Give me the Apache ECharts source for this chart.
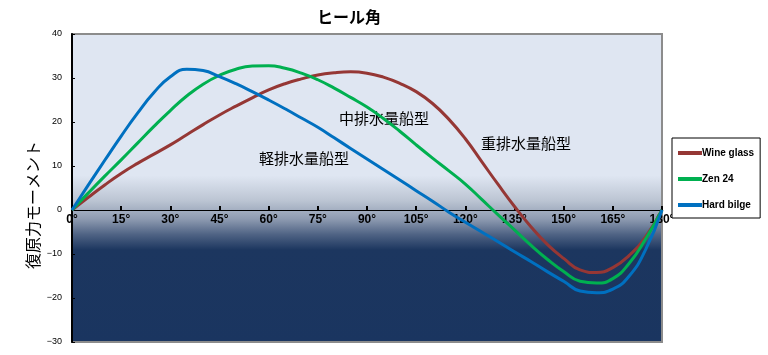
<!DOCTYPE html>
<html><head><meta charset="utf-8">
<script src="https://cdn.jsdelivr.net/npm/echarts@6/dist/echarts.min.js"></script>
<style>html,body{margin:0;padding:0;background:#fff}#c{width:768px;height:355px}</style>
</head><body><div id="c"></div>
<script>
const angles = [0,5,10,15,20,25,30,35,40,45,50,55,60,65,70,75,80,85,90,95,100,105,110,115,120,125,130,135,140,145,150,155,160,165,170,175,180];
const wineGlass = [0,2.9,5.7,8.3,10.6,12.7,14.8,17.1,19.4,21.6,23.6,25.5,27.3,28.7,29.8,30.7,31.2,31.4,31.1,30.2,28.8,26.9,24.2,20.6,16.2,11.0,5.8,0.8,-3.8,-7.8,-11.0,-13.6,-14.2,-13.1,-10.3,-6.1,0];
const zen24 = [0,3.9,7.7,11.4,15.2,19.0,22.6,25.9,28.6,30.6,32.0,32.7,32.8,32.2,31.1,29.6,27.7,25.6,23.4,20.8,17.9,14.8,11.8,8.9,5.9,2.4,-1.1,-4.5,-8.0,-11.2,-14.0,-16.2,-16.6,-15.6,-12.1,-6.6,0];
const hardBilge = [0,5.7,11.3,16.8,22.0,26.7,30.3,32.0,31.7,30.3,28.7,26.9,25.0,23.0,20.9,18.8,16.4,14.0,11.6,9.2,6.8,4.4,2.0,-0.5,-2.8,-5.0,-7.2,-9.5,-11.7,-14.0,-16.2,-18.4,-18.8,-18.0,-15.0,-9.0,0];
const seriesNames = ['Wine glass','Zen 24','Hard bilge'];
const seriesColors = ['#953735','#00b050','#0070c0'];
const titleText = 'ヒール角';
const yName = '復原力モーメント';
const notes = ['軽排水量船型','中排水量船型','重排水量船型'];

const chart = echarts.init(document.getElementById('c'));
const vals = [wineGlass, zen24, hardBilge];
const jp = '"Noto Sans CJK JP", sans-serif';
const gridTop = 34, gridBottom = 13, H = 355;
const yMin = -30, yMax = 40;
const zeroOffset = (H - gridTop - gridBottom) * (0 - yMin) / (yMax - yMin);
chart.setOption({
  animation: false,
  title: { text: titleText, left: 312, top: 4, textStyle: { fontFamily: jp, fontSize: 16, fontWeight: 'bold', color: '#000' } },
  grid: {
    left: 72, right: 106, top: gridTop, bottom: gridBottom, show: true, borderColor: '#8c8c8c', borderWidth: 2,
    backgroundColor: new echarts.graphic.LinearGradient(0,0,0,1,[
      {offset:0,color:'#dfe6f2'},{offset:0.46,color:'#dfe6f2'},{offset:0.54,color:'#bcc5d3'},
      {offset:0.6,color:'#8e9bb1'},{offset:0.65,color:'#4f6384'},{offset:0.7,color:'#1c365f'},{offset:1,color:'#1a3560'}])
  },
  legend: {
    orient: 'vertical', left: 672, top: 138, width: 94, height: 80,
    backgroundColor: '#fff', borderColor: '#000', borderWidth: 1, padding: [10, 6, 8, 6],
    itemGap: 16, itemWidth: 24, itemHeight: 4,
    textStyle: { fontFamily: '"Liberation Sans Narrow", sans-serif', fontWeight: 'bold', fontSize: 10, color: '#000', padding: [0,0,0,-5] },
    data: seriesNames.map(n => ({ name: n, icon: 'rect' }))
  },
  xAxis: {
    type: 'value', min: 0, max: 180, interval: 15, position: 'bottom', offset: -zeroOffset,
    axisLine: { onZero: false, lineStyle: { color: '#000', width: 1 } },
    axisTick: { show: true, length: 4, inside: true, lineStyle: { color: '#000', width: 2 } },
    axisLabel: { margin: 4, formatter: v => v + '°', fontFamily: '"Liberation Sans Narrow", sans-serif', fontWeight: 'bold', fontSize: 12, color: '#000' },
    splitLine: { show: false }
  },
  yAxis: {
    type: 'value', min: yMin, max: yMax, interval: 10,
    axisLine: { show: true, lineStyle: { color: '#000', width: 2 } },
    axisTick: { show: true, inside: true, length: 3, lineStyle: { color: '#000' } },
    axisLabel: { margin: 10, fontSize: 9, color: '#000', fontFamily: '"Liberation Sans", sans-serif', formatter: v => v < 0 ? '−' + (-v) : String(v) },
    splitLine: { show: false }
  },
  series: vals.map((arr, i) => ({
    name: seriesNames[i], type: 'line', smooth: true, symbol: 'none',
    lineStyle: { color: seriesColors[i], width: 3 }, itemStyle: { color: seriesColors[i] },
    data: angles.map((a, j) => [a, arr[j]])
  })),
  graphic: [
    { type: 'text', x: 33, y: 205, rotation: Math.PI / 2, style: { text: yName, font: '16px ' + jp, fill: '#000', align: 'center', verticalAlign: 'middle' } },
    { type: 'text', left: 259, top: 151, style: { text: notes[0], font: '15px ' + jp, fill: '#000' } },
    { type: 'text', left: 339, top: 111, style: { text: notes[1], font: '15px ' + jp, fill: '#000' } },
    { type: 'text', left: 481, top: 136, style: { text: notes[2], font: '15px ' + jp, fill: '#000' } }
  ]
});
</script></body></html>
